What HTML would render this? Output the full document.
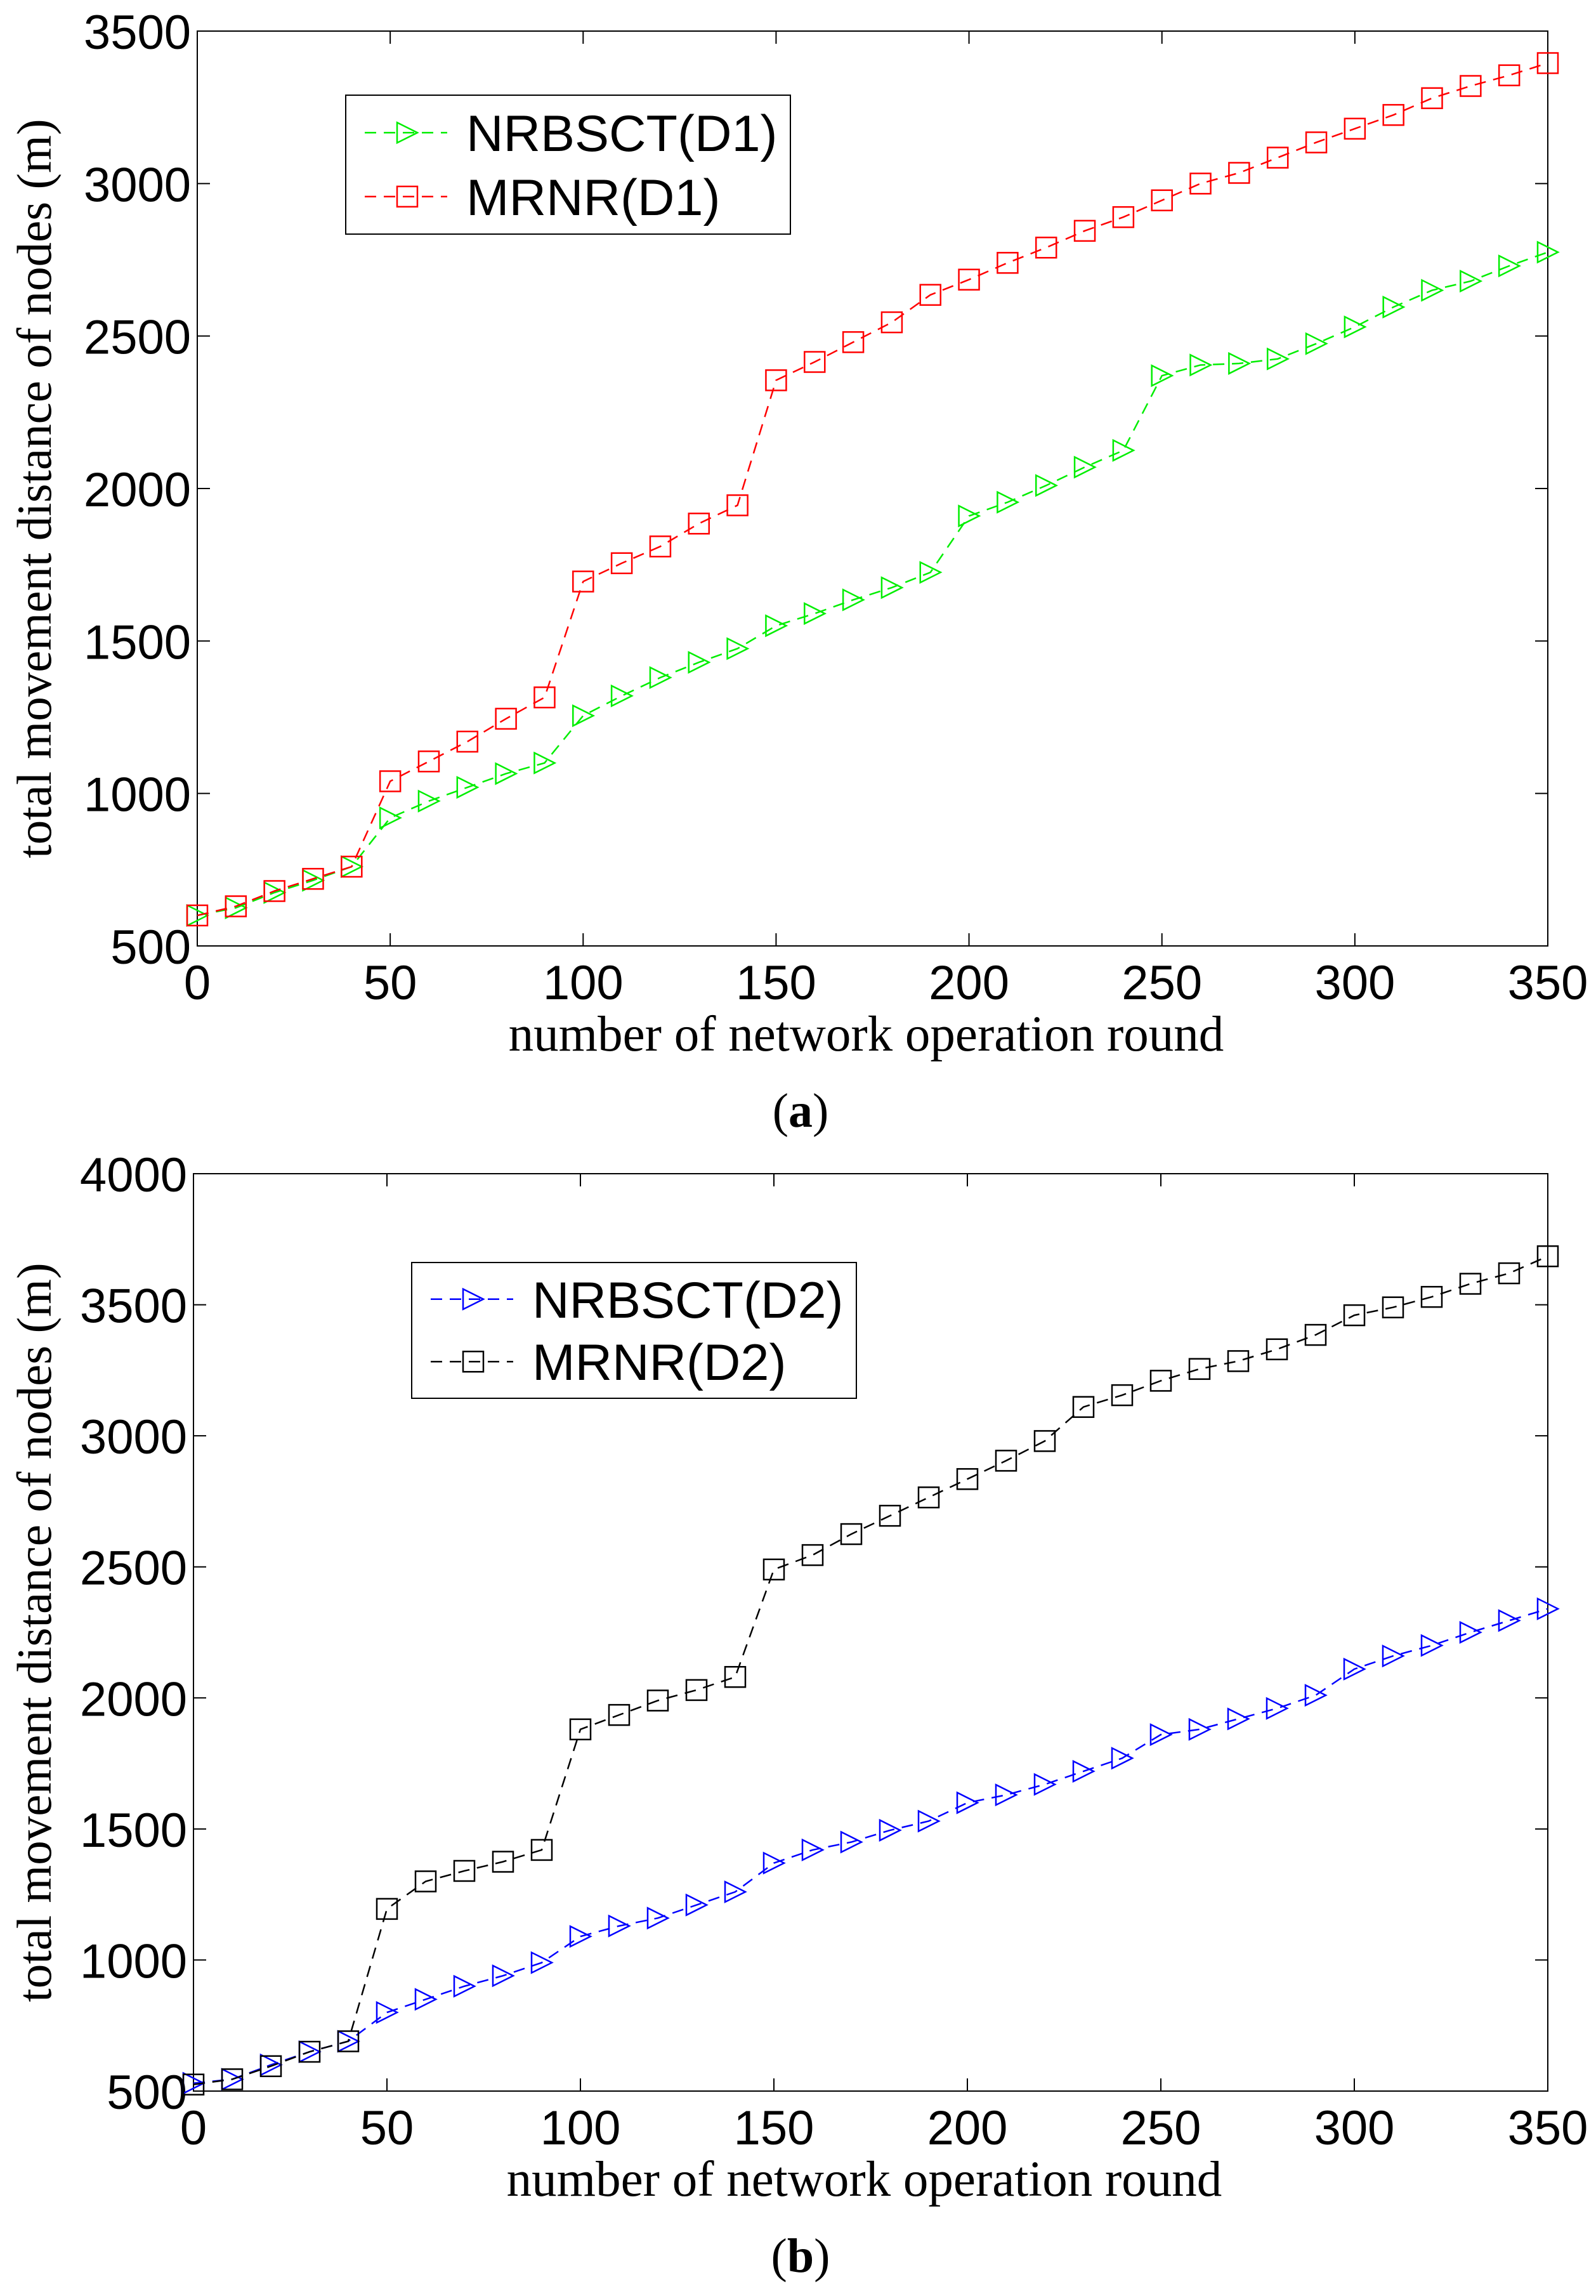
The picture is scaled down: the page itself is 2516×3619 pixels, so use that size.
<!DOCTYPE html>
<html><head><meta charset="utf-8"><style>
html,body{margin:0;padding:0;background:#fff}
svg{display:block}
text{font-family:"Liberation Sans",sans-serif;fill:#000}
.serif{font-family:"Liberation Serif",serif}
</style></head><body>
<svg id="chart" xmlns="http://www.w3.org/2000/svg" width="2516" height="3619" viewBox="0 0 2516 3619"></svg>
<script>
const rounds = [0,10,20,30,40,50,60,70,80,90,100,110,120,130,140,150,160,170,180,190,200,210,220,230,240,250,260,270,280,290,300,310,320,330,340,350];
const nrbsctD1 = [600,625,675,715,760,920,975,1020,1065,1100,1255,1320,1380,1430,1475,1550,1590,1635,1675,1725,1910,1955,2010,2070,2125,2370,2405,2410,2425,2475,2530,2595,2650,2680,2730,2775];
const mrnrD1 = [600,630,680,720,760,1040,1105,1170,1245,1315,1695,1755,1810,1885,1945,2355,2415,2480,2545,2635,2685,2740,2790,2845,2890,2945,3000,3035,3085,3135,3180,3225,3280,3320,3355,3395];
const nrbsctD2 = [530,545,600,650,690,800,850,900,940,990,1090,1130,1160,1210,1260,1370,1420,1450,1495,1530,1600,1630,1670,1720,1770,1860,1880,1920,1960,2010,2110,2160,2200,2250,2295,2340];
const mrnrD2 = [525,545,595,650,690,1195,1300,1340,1375,1420,1880,1935,1990,2030,2080,2490,2545,2625,2695,2765,2835,2905,2980,3110,3155,3210,3255,3285,3330,3385,3460,3490,3530,3580,3620,3685];
const xTicks = [0,50,100,150,200,250,300,350];
const yTicksA = [500,1000,1500,2000,2500,3000,3500];
const yTicksB = [500,1000,1500,2000,2500,3000,3500,4000];

const NS="http://www.w3.org/2000/svg";
const svg=document.getElementById('chart');
function mk(tag,attrs,parent){const e=document.createElementNS(NS,tag);for(const k in attrs)e.setAttribute(k,attrs[k]);(parent||svg).appendChild(e);return e;}

function panel(p){
  const g=mk('g',{});
  
  
  const sx=v=>p.x0+(v-0)/(350-0)*(p.x1-p.x0);
  const sy=v=>p.y1-(v-p.ymin)/(p.ymax-p.ymin)*(p.y1-p.y0);
  const frame=mk('rect',{x:p.x0,y:p.y0,width:p.x1-p.x0,height:p.y1-p.y0,fill:'none',stroke:'#000','stroke-width':2},g);
  
  
  xTicks.forEach(t=>{
    const x=sx(t);
    mk('line',{x1:x,x2:x,y1:p.y1,y2:p.y1-20,stroke:'#000','stroke-width':2},g);
    mk('line',{x1:x,x2:x,y1:p.y0,y2:p.y0+20,stroke:'#000','stroke-width':2},g);
    const tx=mk('text',{x:x,y:p.y1+84,'font-size':p.fs,'text-anchor':'middle'},g);
    tx.textContent=t;
    
    
  });
  p.yTicks.forEach(t=>{
    const y=sy(t);
    mk('line',{x1:p.x0,x2:p.x0+20,y1:y,y2:y,stroke:'#000','stroke-width':2},g);
    mk('line',{x1:p.x1,x2:p.x1-20,y1:y,y2:y,stroke:'#000','stroke-width':2},g);
    const ty=mk('text',{x:p.x0-10,y:y+28,'font-size':p.fs,'text-anchor':'end'},g);
    ty.textContent=t;
    
    
  });
  const xl=mk('text',{x:(p.x0+p.x1)/2-10,y:p.y1+165,'font-size':79,'text-anchor':'middle',class:'serif'},g);
  xl.textContent='number of network operation round';
  
  
  const cy=(p.y0+p.y1)/2;
  const yl=mk('text',{x:0,y:0,'font-size':77,'text-anchor':'middle',class:'serif',transform:`translate(80,${cy}) rotate(-90)`},g);
  yl.textContent='total movement distance of nodes (m)';
  
  
  const cap=mk('text',{x:1262,y:p.y1+285,'font-size':76,'text-anchor':'middle',class:'serif'},g);
  cap.innerHTML='(<tspan font-weight="bold">'+p.cap+'</tspan>)';
  
  

  p.series.forEach(s=>{
    const sg=mk('g',{},g);
    
    
    const pts=rounds.map((r,i)=>sx(r)+','+sy(s.vals[i])).join(' ');
    mk('polyline',{points:pts,fill:'none',stroke:s.color,'stroke-width':2.5,'stroke-dasharray':'18,12'},sg);
    rounds.forEach((r,i)=>{
      const m=marker(s.marker,sx(r),sy(s.vals[i]),s.color,sg);
      
      
    });
  });
  const L=p.legend;
  const lg=mk('g',{},g);
  
  
  mk('rect',{x:L.x,y:L.y,width:L.w,height:L.h,fill:'#fff',stroke:'#000','stroke-width':2},lg);
  p.series.forEach((s,i)=>{
    const ey=L.y+L.h*(0.27+0.46*i);
    const eg=mk('g',{},lg);
    
    
    mk('line',{x1:L.x+30,x2:L.x+160,y1:ey,y2:ey,stroke:s.color,'stroke-width':2.5,'stroke-dasharray':'18,12'},eg);
    marker(s.marker,L.x+97,ey,s.color,eg);
    const t=mk('text',{x:L.x+190,y:ey+29,'font-size':81},eg);
    t.textContent=s.label;
  });
}
function marker(type,x,y,c,parent){
  const r=16;
  if(type==='sq') return mk('rect',{x:x-r,y:y-r,width:2*r,height:2*r,fill:'none',stroke:c,'stroke-width':2.5},parent);
  return mk('polygon',{points:`${x-r},${y-r} ${x+r},${y} ${x-r},${y+r}`,fill:'none',stroke:c,'stroke-width':2.5},parent);
}

panel({name:'chart-a',x0:311,x1:2440,y0:49,y1:1491,ymin:500,ymax:3500,yTicks:yTicksA,fs:76,cap:'a',
  legend:{x:545,y:150,w:701,h:219},
  series:[
    {key:'nrbsct-d1-series',label:'NRBSCT(D1)',vals:nrbsctD1,color:'#00ee00',marker:'tri'},
    {key:'mrnr-d1-series',label:'MRNR(D1)',vals:mrnrD1,color:'#ff0000',marker:'sq'}
  ]});
panel({name:'chart-b',x0:305,x1:2440,y0:1850,y1:3296,ymin:500,ymax:4000,yTicks:yTicksB,fs:76,cap:'b',
  legend:{x:649,y:1990,w:701,h:214},
  series:[
    {key:'nrbsct-d2-series',label:'NRBSCT(D2)',vals:nrbsctD2,color:'#0000ff',marker:'tri'},
    {key:'mrnr-d2-series',label:'MRNR(D2)',vals:mrnrD2,color:'#000000',marker:'sq'}
  ]});
</script>
</body></html>
